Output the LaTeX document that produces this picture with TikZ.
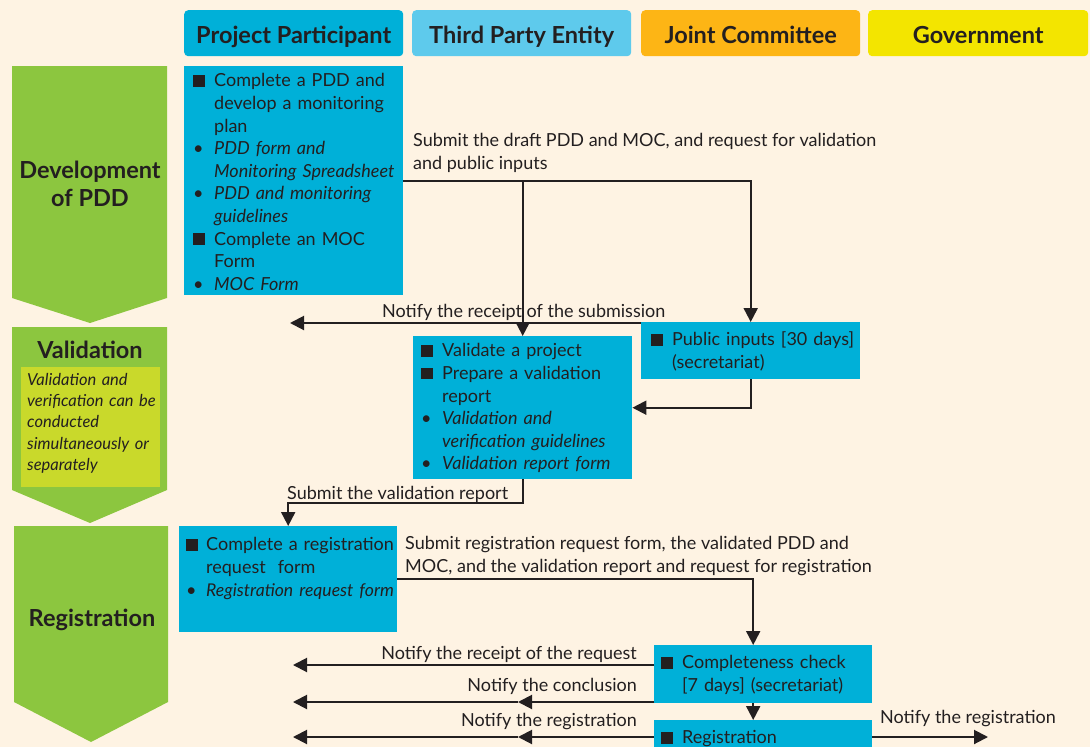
\documentclass[tikz,border=0pt]{standalone}
\usepackage{fontspec}
\setmainfont{Lato}
\usetikzlibrary{arrows.meta,calc}
\definecolor{bg}{HTML}{FEF3E3}
\definecolor{ppblue}{HTML}{00B0D8}
\definecolor{tpblue}{HTML}{5ECAEC}
\definecolor{jcorange}{HTML}{FDB515}
\definecolor{govyellow}{HTML}{F3E500}
\definecolor{chevgreen}{HTML}{8CC63F}
\definecolor{limebox}{HTML}{C9D92B}
\definecolor{ink}{HTML}{231F20}
\newcommand{\sqb}{\rule[0.0em]{0.64em}{0.64em}}
\newcommand{\bul}{\textbullet}
\newcommand{\itm}[3][21pt]{\par\hangindent=#1\hangafter=1\noindent\makebox[#1][l]{#2}#3\par}
\tikzset{
  lane/.style={rounded corners=4pt, minimum width=219pt, minimum height=46pt, anchor=north west, inner sep=0pt, text=ink, text height=21pt, text depth=0pt, font=\fontsize{23.5}{26}\selectfont\bfseries},
  box/.style={fill=ppblue, anchor=north west, inner sep=0pt},
  txt/.style={anchor=north west, inner sep=0pt, align=left, text=ink, font=\fontsize{18}{22.6}\selectfont, text width=#1},
  arr/.style={draw=ink, line width=2pt, -{Triangle[length=14pt,width=14pt]}},
  lbl/.style={inner sep=0pt, text=ink, font=\fontsize{18}{22.6}\selectfont},
  chev/.style={fill=chevgreen},
  ctitle/.style={inner sep=0pt, text=ink, align=center, font=\fontsize{23.5}{28}\selectfont\bfseries},
}
\begin{document}
\begin{tikzpicture}[x=1pt,y=-1pt]
\useasboundingbox (0,0) rectangle (1090,747);
\clip (0,0) rectangle (1090,747);
\fill[bg] (0,0) rectangle (1090,747);

% lane headers
\node[lane, fill=ppblue] (hpp) at (184,10) {Project Participant};
\node[lane, fill=tpblue] (htp) at (412,10) {Third Party Entity};
\node[lane, fill=jcorange] (hjc) at (641,10) {Joint Committee};
\node[lane, fill=govyellow, minimum width=220pt] (hgv) at (868,10) {Government};

% chevrons
\fill[chev] (12,66) -- (167,66) -- (167,298) -- (90,323) -- (12,298) -- cycle;
\fill[chev] (12,327) -- (167,327) -- (167,490) -- (90,523) -- (12,490) -- cycle;
\fill[chev] (14,526) -- (168,526) -- (168,702) -- (91,742) -- (14,702) -- cycle;
\node[ctitle] (tdev) at (90,184) {Development\\of PDD};
\node[ctitle] (tval) at (90,350) {Validation};
\fill[limebox] (21,367) rectangle (160,487);
\node[txt=140pt, font=\fontsize{16.5}{21.3}\selectfont\itshape] (tnote) at (27,373) {Validation and\\verification can be\\conducted\\simultaneously or\\separately};
\node[ctitle] (treg) at (92,620) {Registration};

% boxes
\node[box, minimum width=219pt, minimum height=229pt] (dev) at (184,66) {};
\node[txt=215pt] (devt) at (193,64) {%
\itm{\sqb}{Complete a PDD and\newline develop a monitoring\newline plan}
\itm{\bul}{\textit{PDD form and\newline Monitoring Spreadsheet}}
\itm{\bul}{\textit{PDD and monitoring\newline guidelines}}
\itm{\sqb}{Complete an MOC\newline Form}
\itm{\bul}{\textit{MOC Form}}};

\node[box, minimum width=219pt, minimum height=57pt] (pub) at (641,322) {};
\node[txt=215pt] (pubt) at (651,323) {\itm{\sqb}{Public inputs [30 days]\newline (secretariat)}};

\node[box, minimum width=219pt, minimum height=143pt] (val) at (413,336) {};
\node[txt=215pt] (valt) at (421,334) {%
\itm{\sqb}{Validate a project}
\itm{\sqb}{Prepare a validation\newline report}
\itm{\bul}{\textit{Validation and\newline verification guidelines}}
\itm{\bul}{\textit{Validation report form}}};

\node[box, minimum width=218pt, minimum height=106pt] (reg) at (179,526) {};
\node[txt=215pt] (regt) at (186,528) {%
\itm[20pt]{\sqb}{Complete a registration\newline request\ \ form}
\itm[20pt]{\bul}{\textit{\fontsize{17.6}{22.6}\selectfont Registration request form}}};

\node[box, minimum width=218pt, minimum height=58pt] (comp) at (654,645) {};
\node[txt=215pt] (compt) at (661,646) {\itm{\sqb}{Completeness check\newline [7 days] (secretariat)}};

\node[box, minimum width=218pt, minimum height=34pt] (rg) at (654,720) {};
\node[txt=215pt] (rgt) at (661,721) {\itm{\sqb}{Registration}};

% labels
\node[lbl, anchor=north west, align=left] (l1) at (413,133) {Submit the draft PDD and MOC, and request for validation\\and public inputs};
\node[lbl, anchor=west] (l2) at (382,312) {Notify the receipt of the submission};
\node[lbl, anchor=west] (l3) at (287,494) {Submit the validation report};
\node[lbl, anchor=north west, align=left] (l4) at (405,536) {Submit registration request form, the validated PDD and\\MOC, and the validation report and request for registration};
\node[lbl, anchor=east] (l5) at (637,654) {Notify the receipt of the request};
\node[lbl, anchor=east] (l6) at (637,686) {Notify the conclusion};
\node[lbl, anchor=east] (l7) at (637,722) {Notify the registration};
\node[lbl, anchor=west] (l8) at (880,719) {Notify the registration};

% free ends
\coordinate (e1) at (290,323);
\coordinate (m2) at (518,702);
\coordinate (e2) at (293,702);
\coordinate (m3) at (518,737);
\coordinate (e3) at (293,737);
\coordinate (e4) at (988,737);
\coordinate (e5) at (293,665);

% connectors
\draw[arr] (dev.east) -| (pub.north);
\draw[arr] (dev.east -| val.north) -- (val.north);
\draw[arr] (pub.north west |- e1) -- (e1);
\draw[arr] (pub.south) |- (val.east);
\draw[arr] (val.south) -- ++(0,24) -| (reg.north);
\draw[arr] (reg.east) -| ([xshift=-10pt]comp.north);
\draw[arr] ([xshift=-10pt]comp.south) -- ([xshift=-10pt]rg.north);
\draw[arr] (comp.west |- e5) -- (e5);
\draw[arr] (comp.west |- m2) -- (m2);
\draw[arr] (m2) -- (e2);
\draw[arr] (rg.west |- m3) -- (m3);
\draw[arr] (m3) -- (e3);
\draw[arr] (rg.east |- e4) -- (e4);
\end{tikzpicture}
\end{document}
